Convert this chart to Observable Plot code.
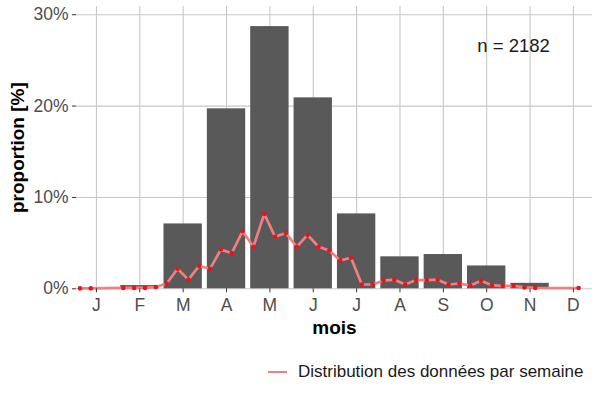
<!DOCTYPE html>
<html><head><meta charset="utf-8">
<script src="https://cdn.jsdelivr.net/npm/d3@7"></script>
<script src="https://cdn.jsdelivr.net/npm/@observablehq/plot@0.6"></script>
<style>
body{margin:0;background:#fff;font-family:"Liberation Sans",Arial,sans-serif;}
#wrap{position:relative;width:600px;height:400px;}
#legend{position:absolute;top:360px;left:268px;height:24px;display:flex;align-items:center;}
#legend .sw{display:inline-block;width:19px;height:2.5px;background:#f08080;}
#legend .lb{margin-left:11px;font-size:17px;color:#1a1a1a;white-space:nowrap;}
</style></head><body>
<div id="wrap"><div id="chart"></div>
<div id="legend"><span class="sw"></span><span class="lb">Distribution des données par semaine</span></div>
</div>
<script>
const months = ["J","F","M","A","M","J","J","A","S","O","N","D"];
const monthNum = [1,2,3,4,5,6,7,8,9,10,11,12];
const monthProp = [0, 0.35, 7.1, 19.7, 28.7, 20.9, 8.2, 3.5, 3.75, 2.5, 0.6, 0];
const yTicks = [0, 10, 20, 30];
const weekX = [0.62,0.87,1.62,1.87,2.12,2.37,2.62,2.87,3.12,3.37,3.62,3.87,4.12,4.37,4.62,4.87,5.12,5.37,5.62,5.87,6.12,6.37,6.62,6.87,7.12,7.37,7.62,7.87,8.12,8.37,8.62,8.87,9.12,9.37,9.62,9.87,10.12,10.37,10.62,10.87,11.12,12.12];
const weekProp = [0.05,0.05,0.1,0.1,0.1,0.2,0.58,2.2,1.0,2.5,2.2,4.3,3.9,6.3,4.6,8.2,5.7,6.1,4.6,5.9,4.6,4.2,3.1,3.4,0.47,0.47,0.9,1.0,0.47,0.95,0.95,1.0,0.47,0.58,0.36,0.88,0.4,0.3,0.33,0.15,0.1,0.08];
const nLabel = "n = 2182";
const xTitle = "mois";
const yTitle = "proportion [%]";

const bars = monthNum.map((m,i)=>({m, p: monthProp[i]}));
const weeks = weekX.map((x,i)=>({x, p: weekProp[i]}));

const plot = Plot.plot({
  width:600, height:345, marginLeft:76, marginRight:8, marginTop:6, marginBottom:56.7,
  style:{fontFamily:'"Liberation Sans", Arial, sans-serif', fontSize:"17.5px", color:"#4d4d4d", background:"#fff", overflow:"visible"},
  x:{domain:[0.54,12.44]},
  y:{domain:[0,30.9]},
  marks:[
    Plot.gridX(monthNum,{stroke:"#c8c8c8", strokeOpacity:1, strokeWidth:1.1}),
    Plot.gridY(yTicks,{stroke:"#c8c8c8", strokeOpacity:1, strokeWidth:1.1}),
    Plot.rectY(bars,{x1:d=>d.m-0.5, x2:d=>d.m+0.5, y:"p", insetLeft:2.5, insetRight:2.5, fill:"#595959"}),
    Plot.line(weeks,{x:"x", y:"p", stroke:"#f08080", strokeWidth:2.7}),
    Plot.dot(weeks,{x:"x", y:"p", r:2.3, fill:"#e8141c"}),
    Plot.axisX(monthNum,{tickFormat:d=>months[d-1], tickSize:4, tickPadding:6, label:null, stroke:"#333", fill:"#4d4d4d"}),
    Plot.axisY(yTicks,{tickFormat:d=>d+"%", tickSize:4, tickPadding:4, label:null, stroke:"#333", fill:"#4d4d4d"}),
    Plot.text([xTitle],{text:d=>d, frameAnchor:"bottom", dy:44.7, textAnchor:"middle", lineAnchor:"bottom", fontWeight:"bold", fontSize:19, fill:"black"}),
    Plot.text([yTitle],{text:d=>d, frameAnchor:"left", dx:-58.5, rotate:-90, textAnchor:"middle", lineAnchor:"middle", fontWeight:"bold", fontSize:19, fill:"black"}),
    Plot.text([nLabel],{text:d=>d, x:10.62, y:26.6, textAnchor:"middle", lineAnchor:"middle", fontSize:18.5, fill:"#1a1a1a"})
  ]
});
document.getElementById("chart").appendChild(plot);
</script>
</body></html>
